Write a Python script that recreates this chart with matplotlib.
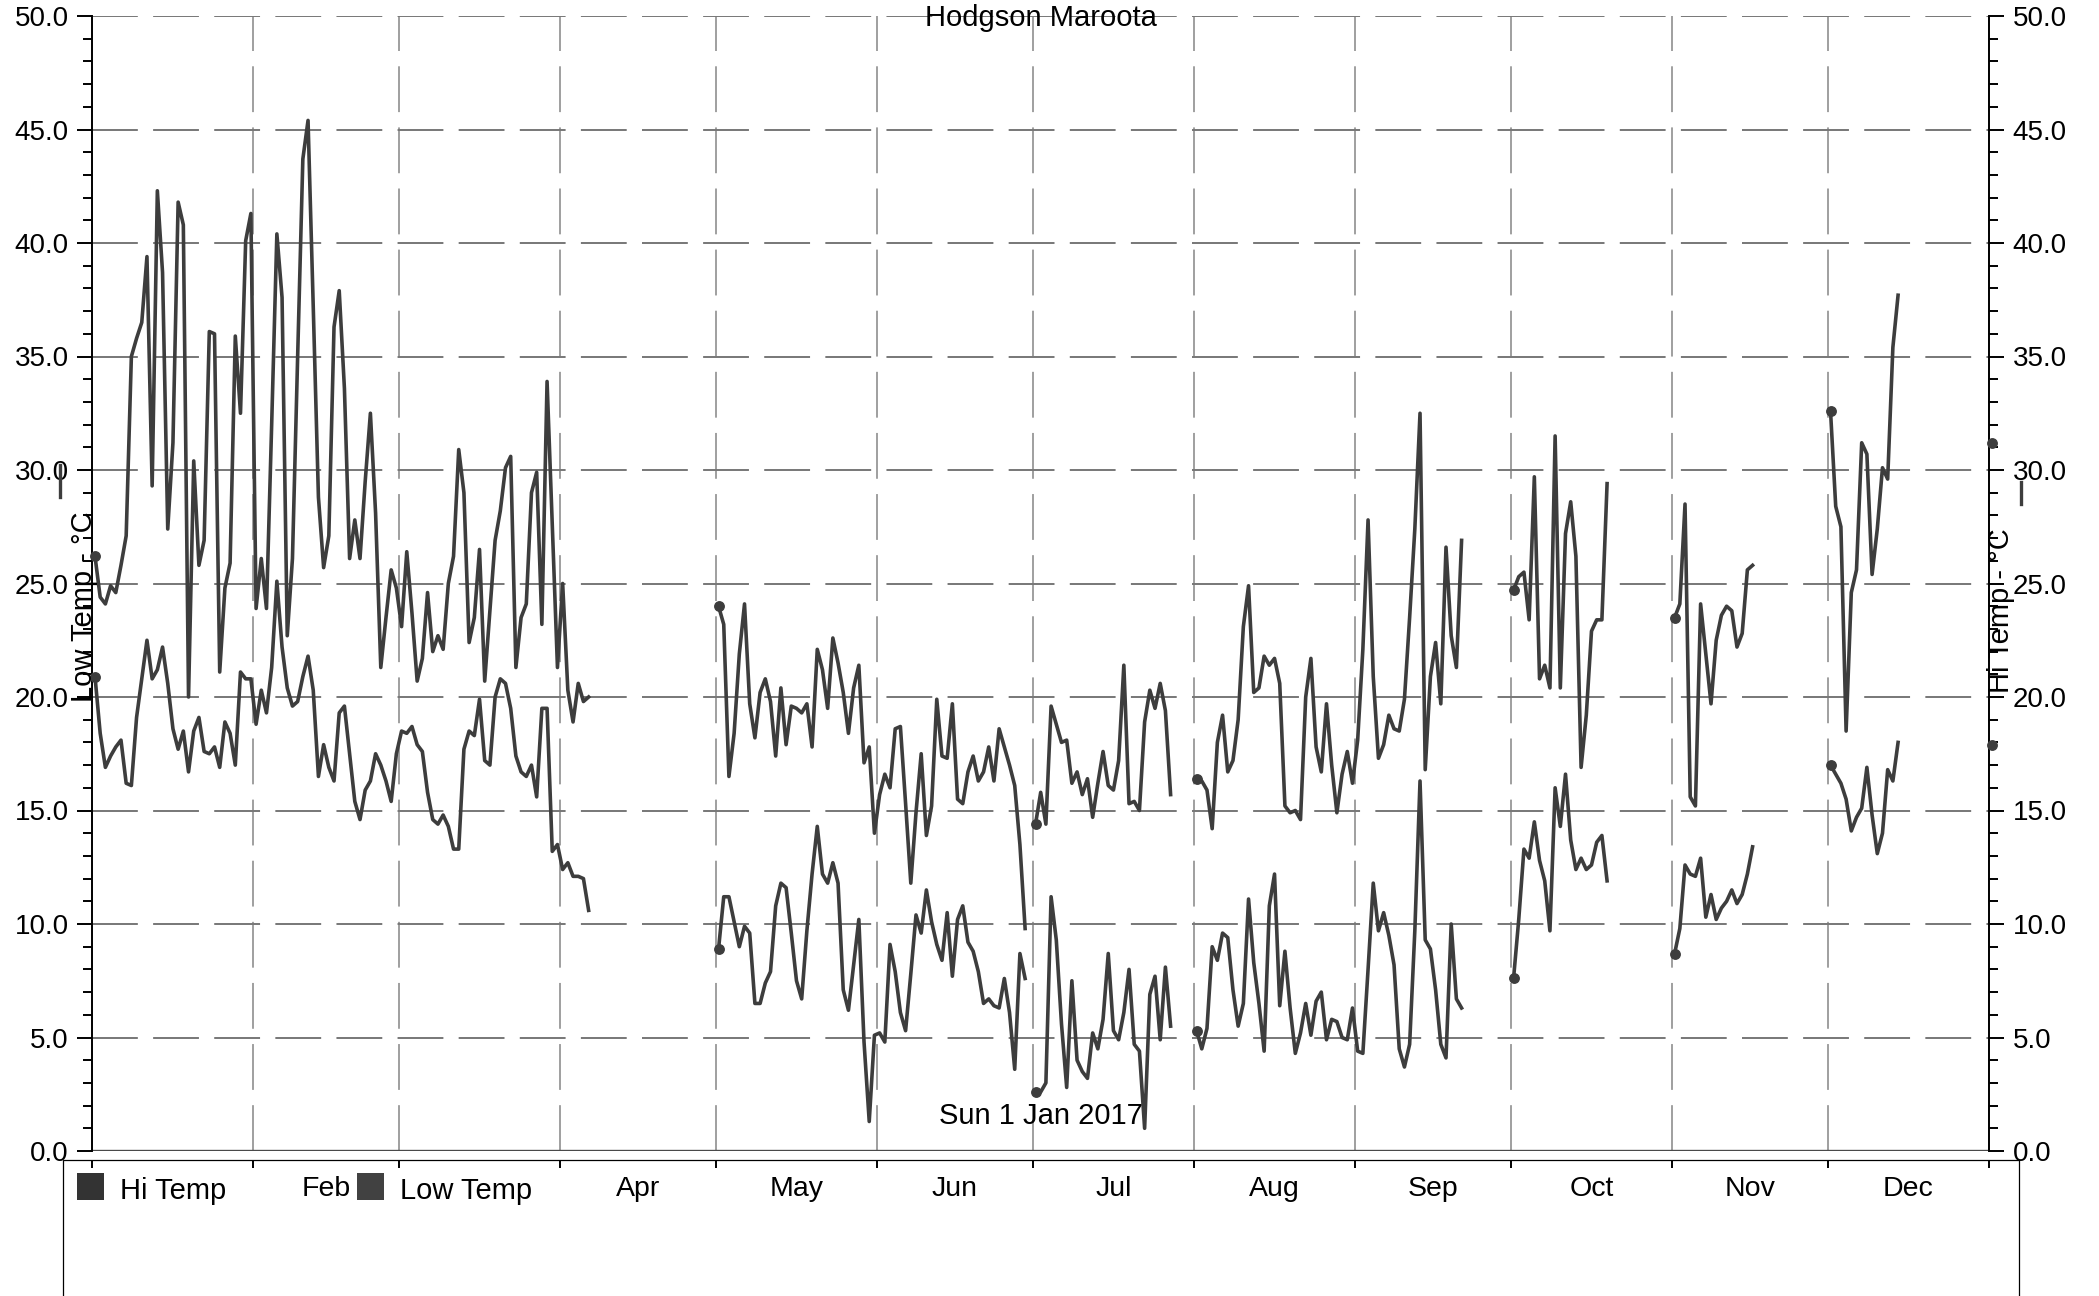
import datetime as dt

import matplotlib
matplotlib.use("Agg")
import matplotlib.pyplot as plt
import matplotlib.dates as mdates
from matplotlib.lines import Line2D
from matplotlib.patches import Rectangle
from matplotlib.ticker import FixedFormatter, FixedLocator, FormatStrFormatter, MultipleLocator

plt.rcParams["font.family"] = ["Liberation Sans", "DejaVu Sans"]
plt.rcParams["lines.scale_dashes"] = False

# ---------------------------------------------------------------- data
station = "Hodgson Maroota"
period_label = "Sun 1 Jan 2017"
hi_name = "Hi Temp"
lo_name = "Low Temp"
left_axis_label = "Low Temp - °C"
right_axis_label = "Hi Temp - °C"

# first day of each run of consecutive daily readings
segment_starts = ["2017-01-01", "2017-05-01", "2017-07-01", "2017-08-01",
                  "2017-10-01", "2017-11-01", "2017-12-01", "2018-01-01"]

hi_jan_apr = [26.2, 24.4, 24.1, 24.9, 24.6, 25.8, 27.1, 35.0, 35.8, 36.5,
              39.4, 29.3, 42.3, 38.7, 27.4, 31.2, 41.8, 40.8, 20.0, 30.4,
              25.8, 26.9, 36.1, 36.0, 21.1, 24.8, 25.9, 35.9, 32.5, 40.1,
              41.3, 23.9, 26.1, 23.9, 32.0, 40.4, 37.6, 22.7, 26.1, 35.0,
              43.7, 45.4, 37.2, 28.8, 25.7, 27.1, 36.3, 37.9, 33.6, 26.1,
              27.8, 26.1, 29.5, 32.5, 28.1, 21.3, 23.5, 25.6, 24.8, 23.1,
              26.4, 23.7, 20.7, 21.7, 24.6, 22.0, 22.7, 22.1, 25.0, 26.2,
              30.9, 29.0, 22.4, 23.5, 26.5, 20.7, 23.8, 26.9, 28.2, 30.1,
              30.6, 21.3, 23.5, 24.1, 29.0, 29.9, 23.2, 33.9, 27.6, 21.3,
              25.0, 20.3, 18.9, 20.6, 19.8, 20.0]
hi_may_jun = [24.0, 23.2, 16.5, 18.4, 21.9, 24.1, 19.7, 18.2, 20.2, 20.8,
              19.8, 17.4, 20.4, 17.9, 19.6, 19.5, 19.3, 19.7, 17.8, 22.1,
              21.2, 19.5, 22.6, 21.5, 20.2, 18.4, 20.4, 21.4, 17.1, 17.8,
              14.0, 15.7, 16.6, 16.0, 18.6, 18.7, 15.3, 11.8, 14.9, 17.5,
              13.9, 15.2, 19.9, 17.4, 17.3, 19.7, 15.5, 15.3, 16.7, 17.4,
              16.3, 16.7, 17.8, 16.3, 18.6, 17.8, 17.0, 16.1, 13.5, 9.8]
hi_jul = [14.4, 15.8, 14.4, 19.6, 18.8, 18.0, 18.1, 16.2, 16.7, 15.7,
          16.4, 14.7, 16.2, 17.6, 16.1, 15.9, 17.2, 21.4, 15.3, 15.4,
          15.0, 18.9, 20.3, 19.5, 20.6, 19.4, 15.7]
hi_aug_sep = [16.4, 16.3, 15.9, 14.2, 18.0, 19.2, 16.7, 17.2, 19.0, 23.1,
              24.9, 20.2, 20.4, 21.8, 21.4, 21.7, 20.6, 15.2, 14.9, 15.0,
              14.6, 20.0, 21.7, 17.8, 16.7, 19.7, 17.0, 14.9, 16.6, 17.6,
              16.2, 18.1, 22.1, 27.8, 20.9, 17.3, 17.9, 19.2, 18.6, 18.5,
              19.9, 23.5, 27.4, 32.5, 16.8, 20.9, 22.4, 19.7, 26.6, 22.7,
              21.3, 26.9]
hi_oct = [24.7, 25.3, 25.5, 23.4, 29.7, 20.8, 21.4, 20.4, 31.5, 20.4,
          27.2, 28.6, 26.2, 16.9, 19.2, 22.9, 23.4, 23.4, 29.4]
hi_nov = [23.5, 24.1, 28.5, 15.6, 15.2, 24.1, 21.9, 19.7, 22.5, 23.6,
          24.0, 23.8, 22.2, 22.8, 25.6, 25.8]
hi_dec = [32.6, 28.4, 27.5, 18.5, 24.6, 25.6, 31.2, 30.7, 25.4, 27.4,
          30.1, 29.6, 35.4, 37.7]
hi_jan18 = [31.2]

lo_jan_apr = [20.9, 18.4, 16.9, 17.4, 17.8, 18.1, 16.2, 16.1, 19.1, 20.8,
              22.5, 20.8, 21.2, 22.2, 20.6, 18.6, 17.7, 18.5, 16.7, 18.5,
              19.1, 17.6, 17.5, 17.8, 16.9, 18.9, 18.4, 17.0, 21.1, 20.8,
              20.8, 18.8, 20.3, 19.3, 21.3, 25.1, 22.2, 20.4, 19.6, 19.8,
              20.9, 21.8, 20.3, 16.5, 17.9, 16.9, 16.3, 19.3, 19.6, 17.5,
              15.4, 14.6, 15.9, 16.3, 17.5, 17.0, 16.3, 15.4, 17.5, 18.5,
              18.4, 18.7, 17.9, 17.6, 15.8, 14.6, 14.4, 14.8, 14.3, 13.3,
              13.3, 17.7, 18.5, 18.3, 19.9, 17.2, 17.0, 20.0, 20.8, 20.6,
              19.5, 17.4, 16.7, 16.5, 17.0, 15.6, 19.5, 19.5, 13.2, 13.5,
              12.4, 12.7, 12.1, 12.1, 12.0, 10.6]
lo_may_jun = [8.9, 11.2, 11.2, 10.1, 9.0, 9.9, 9.6, 6.5, 6.5, 7.4,
              7.9, 10.8, 11.8, 11.6, 9.6, 7.5, 6.7, 9.7, 12.2, 14.3,
              12.2, 11.8, 12.7, 11.8, 7.1, 6.2, 8.2, 10.2, 4.8, 1.3,
              5.1, 5.2, 4.8, 9.1, 7.9, 6.1, 5.3, 7.8, 10.4, 9.6,
              11.5, 10.1, 9.1, 8.4, 10.5, 7.7, 10.2, 10.8, 9.2, 8.8,
              7.9, 6.5, 6.7, 6.4, 6.3, 7.6, 6.1, 3.6, 8.7, 7.6]
lo_jul = [2.6, 2.6, 3.0, 11.2, 9.3, 5.6, 2.8, 7.5, 4.0, 3.5,
          3.2, 5.2, 4.5, 5.8, 8.7, 5.3, 4.9, 6.1, 8.0, 4.7,
          4.4, 1.0, 6.9, 7.7, 4.9, 8.1, 5.5]
lo_aug_sep = [5.3, 4.5, 5.4, 9.0, 8.4, 9.6, 9.4, 7.1, 5.5, 6.5,
              11.1, 8.3, 6.5, 4.4, 10.8, 12.2, 6.4, 8.8, 6.3, 4.3,
              5.2, 6.5, 5.1, 6.6, 7.0, 4.9, 5.8, 5.7, 5.0, 4.9,
              6.3, 4.4, 4.3, 8.0, 11.8, 9.7, 10.5, 9.5, 8.2, 4.5,
              3.7, 4.7, 9.7, 16.3, 9.3, 8.9, 7.1, 4.7, 4.1, 10.0,
              6.7, 6.3]
lo_oct = [7.6, 10.2, 13.3, 12.9, 14.5, 12.8, 11.9, 9.7, 16.0, 14.3,
          16.6, 13.7, 12.4, 12.9, 12.4, 12.6, 13.6, 13.9, 11.9]
lo_nov = [8.7, 9.8, 12.6, 12.2, 12.1, 12.9, 10.3, 11.3, 10.2, 10.7,
          11.0, 11.5, 10.9, 11.3, 12.2, 13.4]
lo_dec = [17.0, 16.6, 16.2, 15.5, 14.1, 14.7, 15.1, 16.9, 14.8, 13.1,
          14.0, 16.8, 16.3, 18.0]
lo_jan18 = [17.9]

month_labels = ["", "Feb", "", "Apr", "May", "Jun",
                "Jul", "Aug", "Sep", "Oct", "Nov", "Dec"]

hi_segments = [hi_jan_apr, hi_may_jun, hi_jul, hi_aug_sep,
               hi_oct, hi_nov, hi_dec, hi_jan18]
lo_segments = [lo_jan_apr, lo_may_jun, lo_jul, lo_aug_sep,
               lo_oct, lo_nov, lo_dec, lo_jan18]

# ---------------------------------------------------------------- style
LINE = "#3d3d3d"
W, H = 2099, 1296


def fx(px):
    return px / W


def fy(px_from_top):
    return 1 - px_from_top / H


def daily_positions(start, n):
    t0 = dt.datetime.fromisoformat(start) + dt.timedelta(hours=12)
    return [t0 + dt.timedelta(days=i) for i in range(n)]


fig = plt.figure(figsize=(W / 100, H / 100), dpi=100)
ax = fig.add_axes([fx(92.4), fy(1151), fx(1989 - 92.4), (1151 - 16) / H])

for series in (hi_segments, lo_segments):
    for start, values in zip(segment_starts, series):
        ax.plot(daily_positions(start, len(values)), values, color=LINE,
                lw=2.6, marker="o", markevery=[0], ms=6.8, clip_on=False,
                zorder=3)

ax.axhline(0, color="#4a4a4a", lw=1.7, zorder=2)

# axes ranges
ax.set_xlim(dt.datetime(2017, 1, 1), dt.datetime(2018, 1, 1))
ax.set_ylim(0, 50)

# y axis: labels on both sides
ax.yaxis.set_major_locator(MultipleLocator(5))
ax.yaxis.set_minor_locator(MultipleLocator(1))
ax.yaxis.set_major_formatter(FormatStrFormatter("%.1f"))
ax.tick_params(axis="y", which="major", direction="out", length=11, width=1.4,
               labelsize=20, pad=6, left=True, right=True,
               labelleft=True, labelright=True, colors="black")
ax.tick_params(axis="y", which="minor", direction="out", length=6.5,
               width=1.4, left=True, right=True)

# x axis: ticks at month starts, names centred in each month
month_starts = [dt.datetime(2017, m, 1) for m in range(1, 13)] + [dt.datetime(2018, 1, 1)]
month_mids = [a + (b - a) / 2 for a, b in zip(month_starts[:-1], month_starts[1:])]
ax.xaxis.set_major_locator(FixedLocator(mdates.date2num(month_starts)))
ax.xaxis.set_minor_locator(FixedLocator(mdates.date2num(month_mids)))
ax.xaxis.set_minor_formatter(FixedFormatter(month_labels))
ax.tick_params(axis="x", which="major", direction="out", length=6, width=1.4,
               labelbottom=False)
ax.tick_params(axis="x", which="minor", length=0, labelsize=20.5, pad=11.5)

ax.spines["bottom"].set_position(("outward", 6.5))
ax.spines["bottom"].set_visible(False)
ax.spines["top"].set_visible(False)
for side in ("left", "right"):
    ax.spines[side].set_linewidth(1.4)
    ax.spines[side].set_color("black")

# dashed grid
ax.set_axisbelow(True)
ax.yaxis.grid(True, which="major", color="#777777", lw=1.4, ls=(0, (33, 11)))
ax.xaxis.grid(True, which="major", color="#858585", lw=1.1, ls=(0, (33, 11)))

# texts
cx = fx((92.4 + 1989) / 2)
fig.text(cx, fy(26), station, ha="center", va="baseline", fontsize=21)
fig.text(cx, fy(1124), period_label, ha="center", va="baseline", fontsize=21)
fig.text(fx(84), fy(607), left_axis_label, rotation=90, ha="center",
         va="center", fontsize=21)
fig.text(fx(2001), fy(611), right_axis_label, rotation=90, ha="center",
         va="center", fontsize=21)

# small value markers beside the scales
fig.add_artist(Line2D([fx(60), fx(60)], [fy(465), fy(497)], color=LINE, lw=2.4))
fig.add_artist(Line2D([fx(2021), fx(2021)], [fy(482), fy(504)], color=LINE, lw=2.4))

# legend panel along the bottom
fig.add_artist(Rectangle((fx(63), -0.05), fx(2019 - 63), (H - 1160) / H + 0.05,
                         transform=fig.transFigure, fill=False,
                         edgecolor="black", lw=0.9))
for sq_x, txt_x, name, col in ((77, 119.6, hi_name, "#333333"),
                               (357, 399.6, lo_name, "#414141")):
    fig.add_artist(Rectangle((fx(sq_x), fy(1200)), fx(27), 27 / H,
                             transform=fig.transFigure, facecolor=col,
                             edgecolor="none"))
    fig.text(fx(txt_x), fy(1199), name, ha="left", va="baseline", fontsize=21)

fig.savefig("out.png", dpi=100)
